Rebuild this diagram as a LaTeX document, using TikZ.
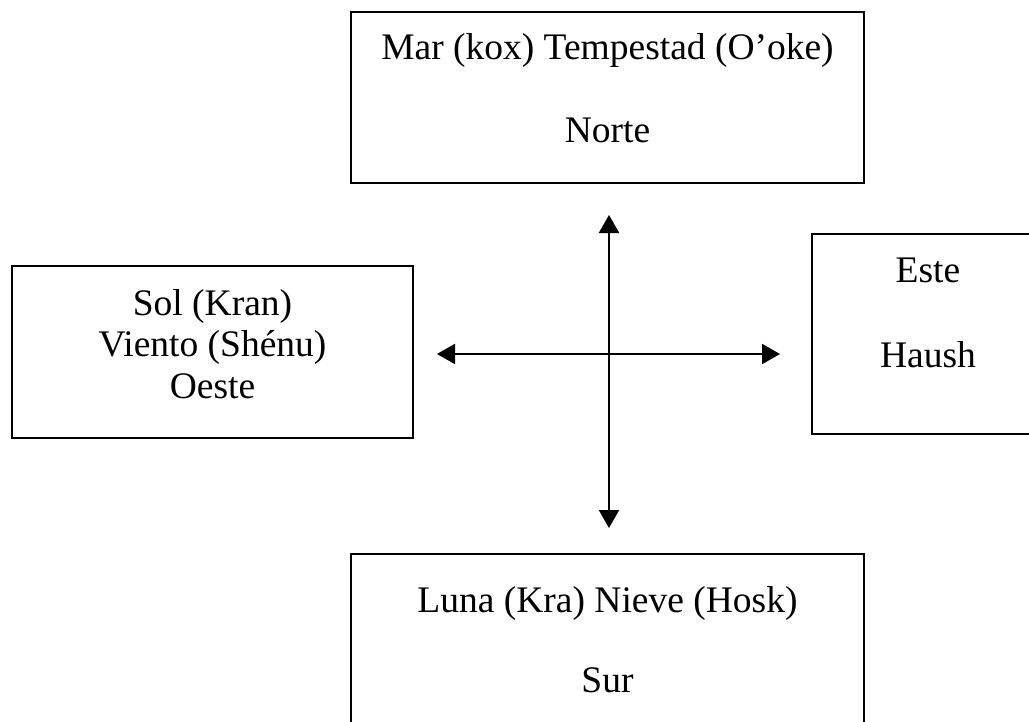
\documentclass[tikz,border=0pt]{standalone}
\usepackage{fontspec}
\setmainfont{Liberation Serif}
\usepackage{tikz}
\usetikzlibrary{arrows.meta,positioning}

\tikzset{
    box/.style={draw, line width=1pt, rectangle, inner sep=0pt},
    txt/.style={align=center, inner sep=0pt, font=\fontsize{18.75}{20.75}\selectfont},
    cross/.style={line width=1pt, {Triangle[length=9pt,width=10pt]}-{Triangle[length=9pt,width=10pt]}}
}

\begin{document}
\begin{tikzpicture}[x=0.5pt,y=-0.5pt]
    \useasboundingbox (0,0) rectangle (1029,722);
    \fill[white] (0,0) rectangle (1029,722);
    \clip (0,0) rectangle (1029,722);

    % Draw the boxes
    \node[box, minimum width=256.5pt, minimum height=85.5pt] (norte) at (607.5,97.5) {};
    \node[box, minimum width=200.5pt, minimum height=86pt] (oeste) at (212.5,352) {};
    \node[box, minimum width=116pt, minimum height=100pt] (este) at (928,334) {};
    \node[box, minimum width=256.5pt, minimum height=85.5pt] (sur) at (607.5,639.5) {};

    % Texts in the boxes
    \node[txt] (nortetxt) at ([yshift=4.5pt]norte.center)
        {Mar (kox) Tempestad (O’oke)\\[20.75pt]Norte};
    \node[txt] (oestetxt) at ([yshift=4pt]oeste.center)
        {Sol (Kran)\\Viento (Shénu)\\Oeste};
    \node[txt] (estetxt) at ([yshift=10.5pt]este.center)
        {Este\\[21.5pt]Haush};
    \node[txt] (surtxt) at (sur.center)
        {Luna (Kra) Nieve (Hosk)\\[19.25pt]Sur};

    % Arrow tips
    \coordinate (up) at (609,215);
    \coordinate (down) at (609,528);
    \coordinate (left) at (437,354);
    \coordinate (right) at (780,354);

    % Draw the cross
    \draw[cross] (left) -- (right);
    \draw[cross] (up) -- (down);
\end{tikzpicture}
\end{document}
